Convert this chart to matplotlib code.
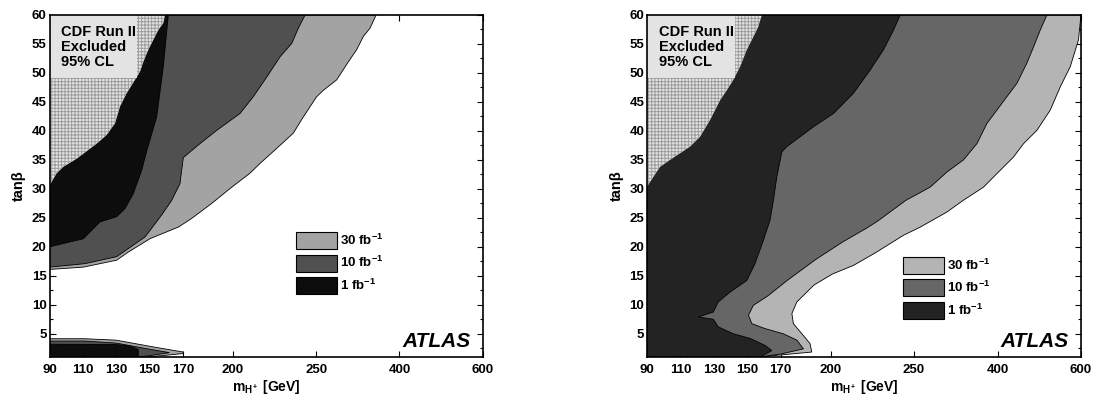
import numpy as np
import matplotlib
matplotlib.use('Agg')
import matplotlib.pyplot as plt
from matplotlib.patches import Patch, Rectangle

plt.rcParams['font.family'] = 'Liberation Sans'
plt.rcParams['font.weight'] = 'bold'
plt.rcParams['mathtext.fontset'] = 'custom'
plt.rcParams['mathtext.rm'] = 'Liberation Sans:bold'
plt.rcParams['mathtext.bf'] = 'Liberation Sans:bold'
plt.rcParams['mathtext.it'] = 'Liberation Sans:bold'
plt.rcParams['mathtext.default'] = 'rm'
plt.rcParams['hatch.linewidth'] = 0.7

# axis ranges / ticks
m_min, m_max = 90, 600
tb_min, tb_max = 1, 60
m_ticks = [90, 110, 130, 150, 170, 200, 250, 400, 600]
lumi_labels = ['30 fb$^{-1}$', '10 fb$^{-1}$', '1 fb$^{-1}$']

# ---- left panel: contours (m_H+ [GeV], tan beta) ----
left_30_m = [358, 347, 335, 323, 308, 287, 263, 251, 242.3, 236.3, 226.4, 216.4, 210.3,
             199.4, 187.4, 175.3, 167.3, 155.3, 150.3, 137.3, 130.3, 110.3, 90]
left_30_tb = [60, 57.7, 56.3, 54, 51.9, 48.8, 47, 45.9, 42.4, 39.6, 37, 34.4, 32.7,
              30.3, 27.5, 24.9, 23.4, 22, 21.4, 19.1, 17.7, 16.5, 16.1]
left_10_m = [243.4, 239.3, 235.4, 228.4, 220.4, 212.3, 204.3, 190.4, 180.3, 170.3, 168.3,
             163.3, 157.3, 151.3, 147.3, 137.3, 130.3, 111.3, 90]
left_10_tb = [60, 57.7, 55.1, 52.8, 49.3, 45.9, 43, 40.1, 37.8, 35.4, 30.9,
              28, 25.5, 23.2, 21.7, 19.7, 18.3, 17.1, 16.5]
left_1_m = [161.3, 158.3, 154.3, 148.5, 145.3, 140.3, 135.3, 130.3, 120.3, 110.3, 90]
left_1_tb = [60, 51.1, 42.4, 36.7, 33.2, 29.2, 26.6, 25.2, 24.3, 21.4, 20]

# low tan beta strips (left panel)
left_low_30_m = [90, 111, 130, 153, 170.3, 170.3, 160, 150]
left_low_30_tb = [4.15, 4.15, 3.9, 2.7, 1.85, 1.6, 1.3, 1.0]
left_low_10_m = [90, 111, 130, 147, 162, 152, 143.3]
left_low_10_tb = [3.75, 3.75, 3.4, 2.5, 1.75, 1.3, 1.0]
left_low_1_m = [90, 130, 138, 143.3, 143.3]
left_low_1_tb = [3.2, 3.15, 2.9, 2.3, 1.0]

left_cdf_m = [90, 94.3, 98.3, 106.3, 118.3, 124.3, 129.3, 132.3, 136.3, 141.3, 144.3,
              146.3, 149.3, 152.3, 155.3, 158.3, 159.3]
left_cdf_tb = [30.6, 32.7, 33.8, 35.2, 37.8, 39.3, 41.3, 44.2, 46.5, 48.8, 50.2,
               51.9, 54, 55.7, 57.4, 58.6, 60]

# ---- right panel ----
right_30_m = [600, 594, 574.4, 550.4, 526.4, 494.4, 462.4, 438.4, 406.4, 374.8, 338, 309,
              261, 243.7, 227, 213.7, 201, 190, 179.8, 176.8, 177.7, 183.7, 187.7, 188.7,
              172, 157]
right_30_tb = [60, 55.7, 51.1, 47.6, 43.6, 40.1, 37.8, 35.5, 33.2, 30.3, 28, 26,
               23.4, 22, 19, 16.8, 15.3, 13.4, 10.5, 8.5, 6.75, 4.7, 3.3, 1.85,
               1.4, 1.0]
right_10_m = [518.4, 502.4, 486.4, 470.4, 446.4, 422.4, 399, 381, 363, 338.8, 309, 279,
              245, 228, 222, 207, 191, 174, 162.7, 153.7, 150.8, 152.8, 160.7, 171.7,
              179.8, 183.7, 170, 157]
right_10_tb = [60, 57.4, 54.5, 51.7, 48.2, 45.9, 43.6, 41.3, 37.8, 35, 32.9, 30.3,
               28, 24.4, 23.3, 20.8, 17.8, 14.2, 11.6, 9.9, 8.2, 6.75, 5.9, 5.0,
               3.9, 2.4, 1.5, 1.0]
right_1_m = [241.7, 237.7, 231.7, 223.7, 213.7, 201.7, 189.7, 173.8, 170.8, 167.8, 165.7,
             163.7, 159.7, 154.7, 149.8, 139.8, 132.7, 129.7, 120.8, 129.7, 132.7, 141.7,
             151.8, 160.7, 164.8, 157.7]
right_1_tb = [60, 57.4, 54, 50.5, 46.5, 43, 40.7, 37.3, 36.4, 32.1, 28,
              24.6, 21.1, 17.1, 14.2, 12.2, 10.5, 8.75, 7.9, 7.5, 6.2, 5.0,
              4.2, 3.0, 2.1, 1.0]
right_cdf_m = [90, 97.8, 103.8, 115.8, 121.8, 127.8, 133.8, 137.8, 141.7, 145.8, 149.8,
               154.7, 156.7, 158.8]
right_cdf_tb = [30.4, 33.8, 35, 37.3, 39, 41.9, 45.3, 47, 48.8, 51.1, 54,
                56.8, 58, 60]

left_colors = ['#a3a3a3', '#505050', '#0d0d0d']
right_colors = ['#b4b4b4', '#666666', '#232323']


def fwd(x):
    x = np.asarray(x, dtype=float)
    return np.where(x < 250, x - 90, np.where(x < 400, 160 + (x - 250) / 3., 210 + (x - 400) / 4.))


def inv(u):
    u = np.asarray(u, dtype=float)
    return np.where(u < 160, u + 90, np.where(u < 210, 250 + (u - 160) * 3., 400 + (u - 210) * 4.))


def region(ax, m, tb, color):
    # close the region along the left edge (and top-left corner)
    if tb[-1] <= tb_min + 0.01:
        xs = list(m) + [m_min, m_min]
        ys = list(tb) + [tb_min, tb_max]
    else:
        xs = list(m) + [m_min]
        ys = list(tb) + [tb_max]
    ax.fill(xs, ys, facecolor=color, edgecolor='black', linewidth=0.6, zorder=2)


def low_region(ax, m, tb, color):
    xs = list(m) + [m_min]
    ys = list(tb) + [tb_min]
    ax.fill(xs, ys, facecolor=color, edgecolor='black', linewidth=0.6, zorder=2)


def cdf_region(ax, m, tb):
    xs = list(m) + [m_min]
    ys = list(tb) + [tb_max]
    ax.fill(xs, ys, facecolor='#e3e3e3', edgecolor='#9c9c9c', hatch='+++++',
            linewidth=0, zorder=3)
    ax.add_patch(Rectangle((0, 0.815), 0.203, 0.185, transform=ax.transAxes,
                           facecolor='#e3e3e3', edgecolor='none', zorder=4))
    ax.text(0.027, 0.972, 'CDF Run II\nExcluded\n95% CL', transform=ax.transAxes,
            ha='left', va='top', fontsize=10.5, fontweight='bold', linespacing=1.1, zorder=5)


def style_axes(ax, colors, leg_xy):
    ax.set_xscale('function', functions=(fwd, inv))
    ax.set_xlim(m_min, m_max)
    ax.set_ylim(tb_min, tb_max)
    ax.set_xticks(m_ticks)
    ax.set_xticklabels([str(t) for t in m_ticks])
    ax.xaxis.set_minor_locator(plt.NullLocator())
    ax.set_yticks(np.arange(5, 61, 5))
    ax.set_yticks(np.arange(2.5, 60, 2.5), minor=True)
    ax.tick_params(which='both', direction='in', top=True, right=True, labelsize=9.5, width=0.8)
    ax.tick_params(which='major', length=4)
    ax.tick_params(which='minor', length=2.5)
    ax.tick_params(axis='x', pad=5)
    ax.tick_params(axis='y', pad=2)
    for lab in ax.get_xticklabels() + ax.get_yticklabels():
        lab.set_fontweight('bold')
    for s in ax.spines.values():
        s.set_linewidth(1.2)
        s.set_zorder(6)
    ax.set_xlabel(r'$m_{H^+}$ [GeV]', fontsize=10, fontweight='bold', labelpad=1.5)
    ax.set_ylabel('tanβ', fontsize=10.5, fontweight='bold', labelpad=4)
    handles = [Patch(facecolor=c, edgecolor='black', linewidth=0.8) for c in colors]
    ax.legend(handles, lumi_labels, loc='upper left', bbox_to_anchor=leg_xy, frameon=False,
              handlelength=3.1, handleheight=1.6, handletextpad=0.25,
              labelspacing=0.42, borderpad=0, borderaxespad=0,
              prop={'weight': 'bold', 'size': 9.5})
    ax.text(0.971, 0.03, 'ATLAS', transform=ax.transAxes, ha='right', va='baseline',
            fontsize=15, fontweight='bold', style='italic', zorder=5)


fig = plt.figure(figsize=(10.94, 3.97), dpi=100)
ax1 = fig.add_axes([0.04525, 0.1008, 0.396, 0.8615])
ax2 = fig.add_axes([0.5914, 0.1008, 0.3967, 0.8615])

# left
region(ax1, left_30_m, left_30_tb, left_colors[0])
region(ax1, left_10_m, left_10_tb, left_colors[1])
region(ax1, left_1_m, left_1_tb, left_colors[2])
low_region(ax1, left_low_30_m, left_low_30_tb, left_colors[0])
low_region(ax1, left_low_10_m, left_low_10_tb, left_colors[1])
low_region(ax1, left_low_1_m, left_low_1_tb, left_colors[2])
cdf_region(ax1, left_cdf_m, left_cdf_tb)
style_axes(ax1, left_colors, (0.569, 0.365))

# right
region(ax2, right_30_m, right_30_tb, right_colors[0])
region(ax2, right_10_m, right_10_tb, right_colors[1])
region(ax2, right_1_m, right_1_tb, right_colors[2])
cdf_region(ax2, right_cdf_m, right_cdf_tb)
style_axes(ax2, right_colors, (0.59, 0.293))

fig.savefig('out.png', dpi=100)
